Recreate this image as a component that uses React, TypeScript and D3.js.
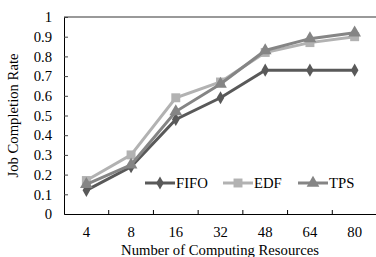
import React, { useEffect, useRef } from "react";
import * as d3 from "d3";

const categories = ["4", "8", "16", "32", "48", "64", "80"];
const fifo = [0.12, 0.24, 0.48, 0.59, 0.73, 0.73, 0.73];
const edf = [0.17, 0.3, 0.59, 0.67, 0.82, 0.87, 0.9];
const tps = [0.15, 0.25, 0.52, 0.66, 0.83, 0.89, 0.92];
const yTicks = [0, 0.1, 0.2, 0.3, 0.4, 0.5, 0.6, 0.7, 0.8, 0.9, 1];

const series = [
  { name: "FIFO", values: fifo, color: "#595959", shape: "diamond" },
  { name: "EDF", values: edf, color: "#b2b2b2", shape: "square" },
  { name: "TPS", values: tps, color: "#858585", shape: "triangle" },
];

const width = 376;
const height = 257;
const left = 64, right = 377, top = 17, bottom = 214;
const font = "Liberation Serif, DejaVu Serif, serif";

function symbolFor(shape: string) {
  if (shape === "diamond") return d3.symbol(d3.symbolDiamond, 50);
  if (shape === "square") return d3.symbol(d3.symbolSquare, 80);
  return d3.symbol(d3.symbolTriangle, 70);
}

export default function App() {
  const ref = useRef<SVGSVGElement>(null);

  useEffect(() => {
    const svg = d3.select(ref.current);
    svg.selectAll("*").remove();

    const x = d3.scaleBand().domain(categories).range([left, right]);
    const y = d3.scaleLinear().domain([0, 1]).range([bottom, top]);

    // top border
    svg
      .append("line")
      .attr("x1", left)
      .attr("x2", width)
      .attr("y1", y(1))
      .attr("y2", y(1))
      .attr("stroke", "#777")
      .attr("stroke-width", 1.5);

    // y axis
    const yAxis = svg
      .append("g")
      .attr("transform", `translate(${left},0)`)
      .call(
        d3
          .axisLeft(y)
          .tickValues(yTicks)
          .tickSize(-4)
          .tickPadding(12)
          .tickFormat((d) => d3.format("")(+d))
      );
    yAxis.attr("font-family", null).attr("font-size", null);
    yAxis.select(".domain").attr("stroke", "#000");
    yAxis.selectAll(".tick line").attr("stroke", "#444");
    yAxis.selectAll("text").attr("fill", "#000");

    // x axis
    const xAxis = svg
      .append("g")
      .attr("transform", `translate(0,${bottom})`)
      .call(d3.axisBottom(x).tickSize(0).tickPadding(13));
    xAxis.attr("font-family", null).attr("font-size", null);
    xAxis.select(".domain").attr("stroke", "#000").attr("stroke-width", 1.2);
    xAxis.selectAll("text").attr("fill", "#000");
    xAxis
      .selectAll(".sep")
      .data(categories.slice(1))
      .join("line")
      .attr("x1", (d) => x(d)!)
      .attr("x2", (d) => x(d)!)
      .attr("y1", 0)
      .attr("y2", -4)
      .attr("stroke", "#000");

    const line = d3
      .line<number>()
      .x((_, i) => x(categories[i])! + x.bandwidth() / 2)
      .y((d) => y(d));

    series.forEach((s) => {
      const g = svg.append("g");
      g.append("path")
        .datum(s.values)
        .attr("d", line)
        .attr("fill", "none")
        .attr("stroke", s.color)
        .attr("stroke-width", 3);
      g.selectAll("path.m")
        .data(s.values)
        .join("path")
        .attr("class", "m")
        .attr("d", symbolFor(s.shape)())
        .attr(
          "transform",
          (d, i) =>
            `translate(${x(categories[i])! + x.bandwidth() / 2},${y(d)})`
        )
        .attr("fill", s.color);
    });

    // legend
    const legendX = [145, 223, 298];
    series.forEach((s, i) => {
      const g = svg
        .append("g")
        .attr("transform", `translate(${legendX[i]},183)`);
      g.append("line")
        .attr("x1", 0)
        .attr("x2", 30)
        .attr("stroke", s.color)
        .attr("stroke-width", 3);
      g.append("path")
        .attr("d", symbolFor(s.shape)())
        .attr("transform", "translate(15,0)")
        .attr("fill", s.color);
      g.append("text")
        .attr("x", 31)
        .attr("dy", "0.35em")
        .text(s.name);
    });

    // titles
    svg
      .append("text")
      .attr("x", 220)
      .attr("y", 255)
      .attr("text-anchor", "middle")
      .text("Number of Computing Resources");
    svg
      .append("text")
      .attr("transform", `translate(18,${(top + bottom) / 2}) rotate(-90)`)
      .attr("text-anchor", "middle")
      .text("Job Completion Rate");
  }, []);

  return (
    <svg
      ref={ref}
      width={width}
      height={height}
      style={{
        position: "absolute",
        left: 0,
        top: 0,
        background: "#fff",
        fontFamily: font,
        fontSize: 14.7,
      }}
    />
  );
}
